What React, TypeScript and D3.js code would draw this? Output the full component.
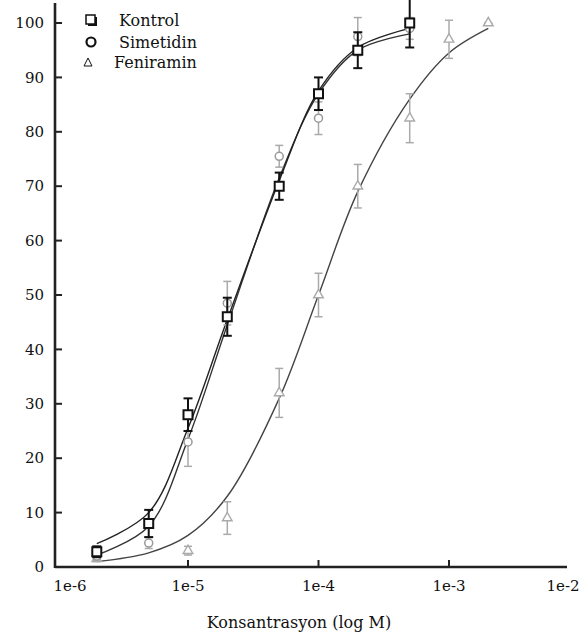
import React from 'react';
import * as d3 from 'd3';

// concentrations (M)
const conc = [2e-6, 5e-6, 1e-5, 2e-5, 5e-5, 1e-4, 2e-4, 5e-4];
const feniConc = [2e-6, 1e-5, 2e-5, 5e-5, 1e-4, 2e-4, 5e-4, 1e-3, 2e-3];

// measured responses (%) and error
const kontrol = [2.8, 8, 28, 46, 70, 87, 95, 100];
const kontrolErr = [1, 2.5, 3, 3.5, 2.5, 3, 3.3, 4.5];
const simetidin = [2, 4.4, 23, 48.5, 75.5, 82.5, 97.5, 99];
const simetidinErr = [0.8, 1, 4.5, 4, 2, 3, 3.5, 2];
const feniramin = [1.5, 3, 9, 32, 50, 70, 82.5, 97, 100];
const feniraminErr = [0.5, 0.8, 3, 4.5, 4, 4, 4.5, 3.5, 0];

// fitted curves
const fitConc = [2e-6, 5e-6, 1e-5, 2e-5, 5e-5, 1e-4, 2e-4, 5e-4];
const kontrolFit = [4.3, 10, 25.5, 45.5, 71, 87.5, 95.5, 99];
const simetidinFit = [2.2, 7.5, 23.5, 44.5, 71.5, 87, 95, 98];
const feniFitConc = [2e-6, 5e-6, 1e-5, 2e-5, 5e-5, 1e-4, 2e-4, 5e-4, 1e-3, 2e-3];
const feniramenFit = [1, 2.6, 5.8, 13, 31, 50, 69, 86, 94.5, 99];

const xTicks = [1e-6, 1e-5, 1e-4, 1e-3, 1e-2];
const xTickLabels = ['1e-6', '1e-5', '1e-4', '1e-3', '1e-2'];
const yTicks = [0, 10, 20, 30, 40, 50, 60, 70, 80, 90, 100];
const legendLabels = ['Kontrol', 'Simetidin', 'Feniramin'];

const FONT = '"DejaVu Serif", serif';

export default function App() {
  const x = d3.scaleLog().domain([1e-6, 1e-2]).range([57.5, 579.5]);
  const y = d3.scaleLinear().domain([0, 100]).range([567, 23]);
  const axisX0 = 55;
  const axisY0 = 567;

  const line = d3.line<[number, number]>()
    .x(d => x(d[0]))
    .y(d => y(d[1]))
    .curve(d3.curveCatmullRom.alpha(0.5));

  const sq = d3.symbol().type(d3.symbolSquare).size(81)();
  const tri = d3.symbol().type(d3.symbolTriangle).size(40)();

  const errBars = (cs: number[], vs: number[], es: number[], color: string, w: number, cap: number) =>
    cs.map((c, i) => {
      const cx = x(c);
      const y1 = y(vs[i] + es[i]);
      const y2 = y(vs[i] - es[i]);
      return (
        <g key={i} stroke={color} strokeWidth={w}>
          <line x1={cx} x2={cx} y1={y1} y2={y2} />
          <line x1={cx - cap} x2={cx + cap} y1={y1} y2={y1} />
          <line x1={cx - cap} x2={cx + cap} y1={y2} y2={y2} />
        </g>
      );
    });

  return (
    <svg width={588} height={640} style={{ position: 'absolute', left: 0, top: 0, background: '#fff' }}>
      {/* axes */}
      <line x1={axisX0} x2={axisX0} y1={3} y2={axisY0 + 1} stroke="#222" strokeWidth={2.6} />
      <line x1={axisX0} x2={567} y1={axisY0} y2={axisY0} stroke="#222" strokeWidth={2.6} />
      {yTicks.map(t => (
        <g key={t}>
          <line x1={axisX0} x2={axisX0 + 7} y1={y(t)} y2={y(t)} stroke="#222" strokeWidth={2} />
          <text x={44} y={y(t)} dy="0.35em" textAnchor="end" fontFamily={FONT} fontSize={15} fill="#111">{t}</text>
        </g>
      ))}
      {xTicks.map((t, i) => {
        const px = x(t);
        const lx = Math.min(Math.max(px, 70), 563);
        return (
          <g key={t}>
            {px > axisX0 + 5 && px < 567 && (
              <line x1={px} x2={px} y1={axisY0} y2={axisY0 - 7} stroke="#222" strokeWidth={2} />
            )}
            <text x={lx} y={591} textAnchor="middle" fontFamily={FONT} fontSize={15} fill="#111">{xTickLabels[i]}</text>
          </g>
        );
      })}
      <text x={299} y={628} textAnchor="middle" fontFamily={FONT} fontSize={16} fill="#111">Konsantrasyon (log M)</text>

      {/* fitted curves */}
      <path d={line(feniFitConc.map((c, i) => [c, feniramenFit[i]]) as [number, number][]) || ''} fill="none" stroke="#444" strokeWidth={1.4} />
      <path d={line(fitConc.map((c, i) => [c, simetidinFit[i]]) as [number, number][]) || ''} fill="none" stroke="#333" strokeWidth={1.4} />
      <path d={line(fitConc.map((c, i) => [c, kontrolFit[i]]) as [number, number][]) || ''} fill="none" stroke="#222" strokeWidth={1.4} />

      {/* Feniramin */}
      {errBars(feniConc, feniramin, feniraminErr, '#aaa', 1.5, 4)}
      {feniConc.map((c, i) => (
        <path key={i} d={tri} transform={`translate(${x(c)},${y(feniramin[i])})`} fill="#fff" stroke="#aaa" strokeWidth={1.4} />
      ))}

      {/* Simetidin */}
      {errBars(conc, simetidin, simetidinErr, '#aaa', 1.5, 4)}
      {conc.map((c, i) => (
        <circle key={i} cx={x(c)} cy={y(simetidin[i])} r={4} fill="#fff" stroke="#999" strokeWidth={1.5} />
      ))}

      {/* Kontrol */}
      {errBars(conc, kontrol, kontrolErr, '#111', 2, 4.5)}
      {conc.map((c, i) => (
        <path key={i} d={sq} transform={`translate(${x(c)},${y(kontrol[i])})`} fill="#fff" stroke="#111" strokeWidth={2} />
      ))}

      {/* legend */}
      <g>
        <rect x={88} y={17} width={9} height={9} fill="#111" />
        <rect x={86} y={15} width={9} height={9} fill="#fff" stroke="#111" strokeWidth={1.5} />
        <circle cx={91} cy={42} r={4.5} fill="#fff" stroke="#111" strokeWidth={2.2} />
        <path d="M88,58 L92,66 L84,66 Z" fill="none" stroke="#111" strokeWidth={1} />
        <text x={119} y={26} fontFamily={FONT} fontSize={16} fill="#111">{legendLabels[0]}</text>
        <text x={119} y={48} fontFamily={FONT} fontSize={16} fill="#111">{legendLabels[1]}</text>
        <text x={114} y={68} fontFamily={FONT} fontSize={16} fill="#111">{legendLabels[2]}</text>
      </g>
    </svg>
  );
}
